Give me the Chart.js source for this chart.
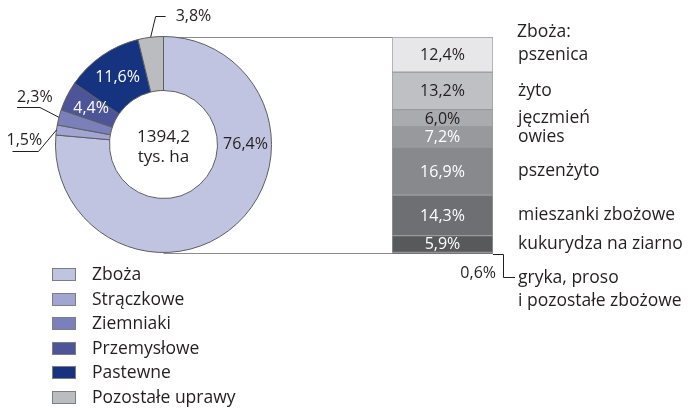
<!DOCTYPE html>
<html>
<head>
<meta charset="utf-8">
<script src="https://cdn.jsdelivr.net/npm/chart.js@4.4.1/dist/chart.umd.min.js"></script>
<style>
  html, body { margin: 0; padding: 0; background: #fff; }
  #wrap { position: relative; width: 688px; height: 412px; }
  #wrap canvas { position: absolute; left: 0; top: 0; }
</style>
</head>
<body>
<div id="wrap">
  <canvas id="grainChart" width="688" height="412"></canvas>
  <canvas id="cropChart" width="688" height="412"></canvas>
</div>
<script>
// struktura zasiewów
const cropLabels = ['Zboża', 'Strączkowe', 'Ziemniaki', 'Przemysłowe', 'Pastewne', 'Pozostałe uprawy'];
const cropShares = [76.4, 1.5, 2.3, 4.4, 11.6, 3.8];
const totalArea = '1394,2';
const totalUnit = 'tys. ha';

// zboża wg gatunków (% całej powierzchni zasiewów)
const grainTitle = 'Zboża:';
const grainLabels = ['pszenica', 'żyto', 'jęczmień', 'owies', 'pszenżyto', 'mieszanki zbożowe', 'kukurydza na ziarno', 'gryka, proso|i pozostałe zbożowe'];
const grainShares = [12.4, 13.2, 6.0, 7.2, 16.9, 14.3, 5.9, 0.6];

const cropColors = ['#c1c4e1', '#a2a5d1', '#7b80ba', '#4d5498', '#15337e', '#bbbcbf'];
const grainColors = ['#e7e7e9', '#bfc0c3', '#aaabae', '#98999c', '#88898c', '#6e6f72', '#58595b', '#231f20'];

const FONT = '"Open Sans", sans-serif';
const TXT = '17.5px ' + FONT;
const NUM = '16px ' + FONT;
const INK = '#231f20';
const pct = v => v.toFixed(1).replace('.', ',') + '%';

Chart.defaults.font.family = FONT;

// prawa kolumna: pasek zbóż z opisami
const grainPlugin = {
  id: 'grainText',
  afterDatasetsDraw(chart) {
    const ctx = chart.ctx;
    const area = chart.chartArea;
    const tx = area.right + 25;
    ctx.save();
    ctx.textBaseline = 'middle';
    chart.data.datasets.forEach((ds, i) => {
      const bar = chart.getDatasetMeta(i).data[0];
      const mid = (bar.y + bar.base) / 2;
      const v = ds.data[0];
      if (v >= 1) {
        ctx.font = NUM;
        ctx.textAlign = 'center';
        ctx.fillStyle = i < 3 ? INK : '#ffffff';
        ctx.fillText(pct(v), (area.left + area.right) / 2, mid + 1);
        ctx.font = TXT;
        ctx.textAlign = 'left';
        ctx.fillStyle = INK;
        ctx.fillText(ds.label, tx, mid);
        if (i === 0) ctx.fillText(grainTitle, tx - 1, mid - 23);
      } else {
        // mały udział: odnośnik pod paskiem
        const y0 = Math.max(bar.y, bar.base);
        ctx.strokeStyle = '#231f20';
        ctx.lineWidth = 1;
        ctx.beginPath();
        ctx.moveTo(area.right, y0 + 0.5);
        ctx.lineTo(area.right + 10.5, y0 + 0.5);
        ctx.lineTo(area.right + 10.5, y0 + 23.5);
        ctx.lineTo(area.right + 22, y0 + 23.5);
        ctx.stroke();
        ctx.font = NUM;
        ctx.textAlign = 'right';
        ctx.fillStyle = INK;
        ctx.fillText(pct(v), area.right + 3, y0 + 19);
        ctx.font = TXT;
        ctx.textAlign = 'left';
        ds.label.split('|').forEach((line, k) => ctx.fillText(line, tx, y0 + 24 + k * 23));
      }
    });
    ctx.restore();
  }
};

const grainChart = new Chart(document.getElementById('grainChart'), {
  type: 'bar',
  data: {
    labels: [grainTitle],
    datasets: grainShares.map((v, i) => ({
      label: grainLabels[i],
      data: [v],
      backgroundColor: grainColors[i],
      borderColor: '#9a9b9e',
      borderWidth: 1,
      borderSkipped: false,
      barPercentage: 1,
      categoryPercentage: 1
    }))
  },
  options: {
    responsive: false,
    animation: false,
    devicePixelRatio: 1,
    layout: { padding: { left: 392, right: 195, top: 37, bottom: 158 } },
    scales: {
      x: { stacked: true, display: false },
      y: { stacked: true, display: false, reverse: true, min: 0,
           max: grainShares.reduce((a, b) => a + b, 0) }
    },
    plugins: { legend: { display: false }, tooltip: { enabled: false } }
  },
  plugins: [grainPlugin]
});

// odnośniki etykiet spoza pierścienia: załamanie (dx, dy), kreska (len), tekst (tdx, tdy)
const leaders = {
  1: { dx: -18, dy: 21, len: -26, tdx: -6, tdy: -11 },
  2: { dx: -19, dy: -10, len: -23, tdx: 0, tdy: -10 },
  5: { dx: 5, dy: -21, len: 10, tdx: 20, tdy: 0 }
};

const cropPlugin = {
  id: 'cropText',
  beforeDatasetsDraw(chart) {
    // linie łączące pierścień z paskiem zbóż
    const arc = chart.getDatasetMeta(0).data[0];
    const ga = grainChart.chartArea;
    const ctx = chart.ctx;
    const yTop = Math.round(arc.y - arc.outerRadius) + 0.5;
    const yBot = Math.round(arc.y + arc.outerRadius) + 0.5;
    ctx.save();
    ctx.strokeStyle = '#8a8b8e';
    ctx.lineWidth = 1;
    ctx.beginPath();
    ctx.moveTo(arc.x, yTop);
    ctx.lineTo(ga.left, yTop);
    ctx.moveTo(arc.x, yBot);
    ctx.lineTo(ga.left, yBot);
    ctx.stroke();
    ctx.restore();
  },
  afterDraw(chart) {
    const ctx = chart.ctx;
    const meta = chart.getDatasetMeta(0);
    const values = chart.data.datasets[0].data;
    const cx = meta.data[0].x, cy = meta.data[0].y;
    ctx.save();
    ctx.textBaseline = 'middle';
    ctx.textAlign = 'center';
    ctx.fillStyle = INK;
    ctx.font = '17px ' + FONT;
    ctx.fillText(totalArea, cx, cy - 7);
    ctx.fillText(totalUnit, cx, cy + 13);

    meta.data.forEach((el, i) => {
      const v = values[i];
      const midA = (el.startAngle + el.endAngle) / 2;
      ctx.font = NUM;
      if (leaders[i]) {
        const L = leaders[i];
        const sx = el.x + Math.cos(midA) * el.outerRadius;
        const sy = el.y + Math.sin(midA) * el.outerRadius;
        const ex = sx + L.dx, ey = Math.round(sy + L.dy) + 0.5;
        ctx.strokeStyle = '#231f20';
        ctx.lineWidth = 1;
        ctx.beginPath();
        ctx.moveTo(sx, sy);
        ctx.lineTo(ex, ey);
        ctx.lineTo(ex + L.len, ey);
        ctx.stroke();
        ctx.fillStyle = INK;
        ctx.textAlign = 'left';
        const x0 = L.len > 0 ? ex : ex + L.len;
        ctx.fillText(pct(v), x0 + L.tdx, ey + L.tdy);
      } else {
        // największy wycinek opisany na wysokości środka
        const a = i === 0 ? 0 : midA;
        const r = (el.innerRadius + el.outerRadius) / 2 + (i === 0 ? 1 : 0);
        ctx.textAlign = 'center';
        ctx.fillStyle = i === 0 ? INK : '#ffffff';
        ctx.fillText(pct(v), el.x + Math.cos(a) * r, el.y + Math.sin(a) * r);
      }
    });

    // legenda
    const bg = chart.data.datasets[0].backgroundColor;
    chart.data.labels.forEach((lab, i) => {
      const y = Math.round(268 + i * 24.6);
      ctx.fillStyle = bg[i];
      ctx.fillRect(52, y, 24, 13);
      ctx.strokeStyle = '#7d7e81';
      ctx.lineWidth = 1;
      ctx.strokeRect(52.5, y + 0.5, 23, 12);
      ctx.fillStyle = INK;
      ctx.textAlign = 'left';
      ctx.font = TXT;
      ctx.fillText(lab, 92, y + 7);
    });
    ctx.restore();
  }
};

new Chart(document.getElementById('cropChart'), {
  type: 'doughnut',
  data: {
    labels: cropLabels,
    datasets: [{
      data: cropShares,
      backgroundColor: cropColors,
      borderColor: '#5c5d60',
      borderWidth: 1
    }]
  },
  options: {
    responsive: false,
    animation: false,
    devicePixelRatio: 1,
    cutout: '50%',
    layout: { padding: { left: 55, right: 416, top: 36, bottom: 159 } },
    plugins: { legend: { display: false }, tooltip: { enabled: false } }
  },
  plugins: [cropPlugin]
});
</script>
</body>
</html>
